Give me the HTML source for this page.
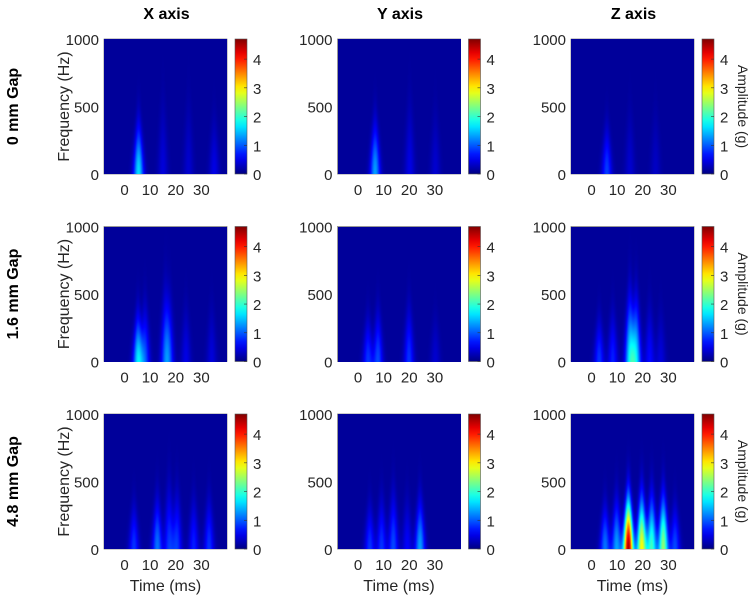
<!DOCTYPE html>
<html><head><meta charset="utf-8"><style>
body{margin:0;background:#fff;width:749px;height:598px;overflow:hidden;position:relative;font-family:"Liberation Sans",sans-serif;color:#262626}
canvas{position:absolute;}
svg{position:absolute;left:0;top:0}
</style></head><body>
<svg id="s" width="749" height="598"></svg>
<script>
// Burst data per panel: [row][col] -> times (ms), amplitudes (g), vertical extents (Hz)
const colTitles = ["X axis","Y axis","Z axis"];
const rowTitles = ["0 mm Gap","1.6 mm Gap","4.8 mm Gap"];
const timeTicks = [0,10,20,30];
const freqTicks = [0,500,1000];
const cbarTicks = [0,1,2,3,4];
const burstTimes = [
 [[5.5,15,25,35],[6.5,20,30],[6,15,25]],
 [[5.3,8,16,17.5,24,34],[3.7,7.6,19.7,30],[3,8.3,15,17.4,22.7,27]],
 [[3.7,12.8,17.4,20.5,27,33],[4.4,9,13.6,19,24],[5.3,9.8,14.4,19.6,23.5,28,32.6]]
];
const burstAmps = [
 [[1.5,0.3,0.25,0.35],[1.2,0.35,0.25],[0.75,0.25,0.2]],
 [[1.5,0.8,0.8,0.6,0.35,0.3],[0.7,0.8,0.7,0.25],[0.7,0.6,1.5,1.4,0.5,0.3]],
 [[0.7,1.0,0.7,0.7,0.6,0.7],[0.7,0.7,0.8,0.45,1.2],[1.0,1.2,4.4,2.8,1.9,2.3,0.8]]
];
const burstHeights = [
 [[320,450,450,350],[330,450,400],[300,400,400]],
 [[300,350,450,420,350,350],[280,320,350,300],[280,320,420,400,350,320]],
 [[280,320,400,360,320,320],[280,320,360,320,320],[280,320,330,340,340,340,280]]
];
const T0=-8, T1=40, F1=1000, CMAX=4.7, BG=0.12;
const colX=[104,337.5,571], rowY=[39,226.5,414], PW=123, PH=135;
const S=document.getElementById('s'), NS='http://www.w3.org/2000/svg';
function el(tag,attrs,txt){const e=document.createElementNS(NS,tag);for(const k in attrs)e.setAttribute(k,attrs[k]);if(txt!=null)e.textContent=txt;S.appendChild(e);return e;}
function jet(v){v=Math.max(0,Math.min(1,v));
 const r=Math.max(0,Math.min(1,Math.min(4*v-1.5,-4*v+4.5)));
 const g=Math.max(0,Math.min(1,Math.min(4*v-0.5,-4*v+3.5)));
 const b=Math.max(0,Math.min(1,Math.min(4*v+0.5,-4*v+2.5)));
 return [r*255,g*255,b*255];}
for(let r=0;r<3;r++)for(let c=0;c<3;c++){
 const x0=colX[c],y0=rowY[r];
 const xs=t=>x0+(t-T0)/(T1-T0)*PW, ys=f=>y0+PH-f/F1*PH;
 const cv=document.createElement('canvas');cv.width=PW;cv.height=PH;
 cv.style.left=x0+'px';cv.style.top=y0+'px';
 
 
 document.body.appendChild(cv);
 const ctx=cv.getContext('2d'),img=ctx.createImageData(PW,PH);
 const ts=burstTimes[r][c],as=burstAmps[r][c],hs=burstHeights[r][c];
 for(let py=0;py<PH;py++){const f=(PH-py-0.5)/PH*F1;
  for(let px=0;px<PW;px++){const t=T0+(px+0.5)/PW*(T1-T0);
   let v=BG;
   for(let i=0;i<ts.length;i++){
     const w=1.95*Math.max(0.45,1-0.35*f/hs[i]);
     v+=as[i]*Math.exp(-Math.pow((t-ts[i])/w,2))*Math.exp(-Math.pow(f/hs[i],2));
   }
   const col=jet(v/CMAX),k=(py*PW+px)*4;
   img.data[k]=col[0];img.data[k+1]=col[1];img.data[k+2]=col[2];img.data[k+3]=255;}}
 ctx.putImageData(img,0,0);
 el('rect',{x:x0,y:y0,width:PW,height:PH,fill:'none',stroke:'#555','stroke-width':0.6,});
 timeTicks.forEach(t=>el('text',{x:xs(t),y:y0+PH+21,'text-anchor':'middle','font-size':15,fill:'#262626',},t));
 freqTicks.forEach(f=>el('text',{x:x0-5,y:ys(f)+6,'text-anchor':'end','font-size':15,fill:'#262626',},f));
 const cx=x0+131,cw=12;
 const gid='g'+r+c;
 const defs=el('defs',{});const lg=document.createElementNS(NS,'linearGradient');
 lg.setAttribute('id',gid);lg.setAttribute('x1','0');lg.setAttribute('y1','1');lg.setAttribute('x2','0');lg.setAttribute('y2','0');
 for(let i=0;i<=20;i++){const s=document.createElementNS(NS,'stop');const cc=jet(i/20);s.setAttribute('offset',i/20);s.setAttribute('stop-color','rgb('+cc.map(Math.round).join(',')+')');lg.appendChild(s);}
 defs.appendChild(lg);
 el('rect',{x:cx,y:y0,width:cw,height:PH,fill:'url(#'+gid+')',stroke:'#555','stroke-width':0.6,});
 cbarTicks.forEach(v=>{const yy=y0+PH-v/CMAX*PH;
  el('line',{x1:cx+cw-3,x2:cx+cw,y1:yy,y2:yy,stroke:'#333','stroke-width':0.6});
  el('text',{x:cx+cw+6,y:yy+6,'font-size':15,fill:'#262626',},v);});
 if(c===0) el('text',{transform:`translate(${x0-35},${y0+PH/2}) rotate(-90)`,'text-anchor':'middle','font-size':16,fill:'#262626',},'Frequency (Hz)');
 if(c===2) el('text',{transform:`translate(${cx+cw+24},${y0+PH/2}) rotate(90)`,'text-anchor':'middle','font-size':14,fill:'#262626',},'Amplitude (g)');
 if(r===2) el('text',{x:x0+PW/2,y:y0+PH+42,'text-anchor':'middle','font-size':16,fill:'#262626',},'Time (ms)');
 if(r===0) el('text',{x:x0+PW/2+1,y:19,'text-anchor':'middle','font-size':16,'font-weight':'bold',fill:'#000',},colTitles[c]);
 if(c===0) el('text',{transform:`translate(18,${y0+PH/2}) rotate(-90)`,'text-anchor':'middle','font-size':16,'font-weight':'bold',fill:'#000',},rowTitles[r]);
}
</script>
</body></html>
